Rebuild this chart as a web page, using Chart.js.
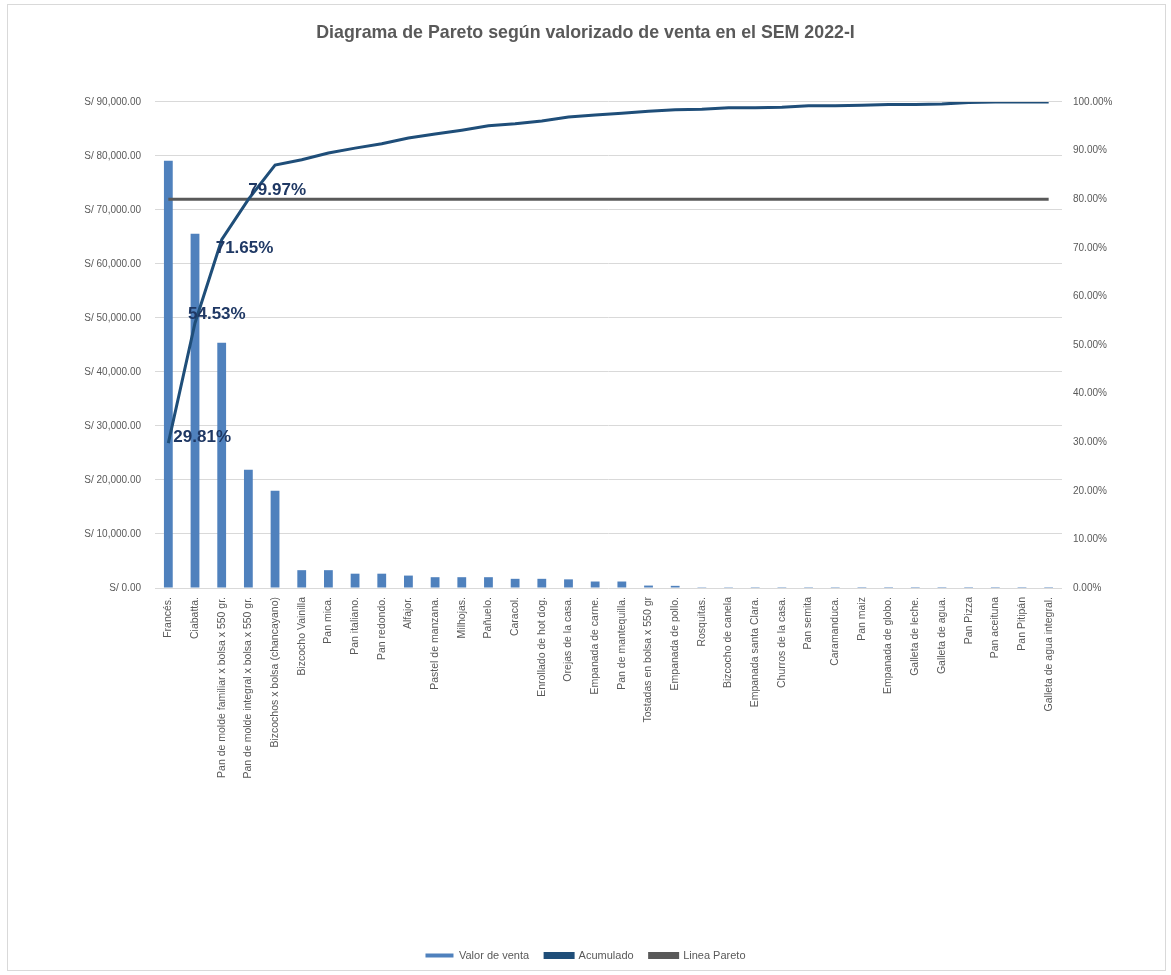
<!DOCTYPE html>
<html>
<head>
<meta charset="utf-8">
<script src="https://cdn.jsdelivr.net/npm/chart.js@4/dist/chart.umd.min.js"></script>
<style>
  html, body { margin: 0; padding: 0; background: #fff; }
  #wrap { position: relative; width: 1171px; height: 975px; }
  #frame { position: absolute; left: 7px; top: 4px; width: 1157px; height: 965px; border: 1px solid #d9d9d9; pointer-events: none; }
  canvas { position: absolute; left: 0; top: 0; }
</style>
</head>
<body>
<div id="wrap">
  <canvas id="pareto" width="1171" height="975"></canvas>
  <div id="frame"></div>
</div>
<script>
const categories = [
  'Francés.', 'Ciabatta.', 'Pan de molde familiar x bolsa x 550 gr.', 'Pan de molde integral x bolsa x 550 gr.',
  'Bizcochos x bolsa (chancayano)', 'Bizcocho Vainilla', 'Pan mica.', 'Pan italiano.', 'Pan redondo.',
  'Alfajor.', 'Pastel de manzana.', 'Milhojas.', 'Pañuelo.', 'Caracol.', 'Enrollado de hot dog.',
  'Orejas de la casa.', 'Empanada de carne.', 'Pan de mantequilla.', 'Tostadas en bolsa x 550 gr',
  'Empanada de pollo.', 'Rosquitas.', 'Bizcocho de canela', 'Empanada santa Clara.', 'Churros de la casa.',
  'Pan semita', 'Caramanduca.', 'Pan maiz', 'Empanada de globo.', 'Galleta de leche.', 'Galleta de agua.',
  'Pan Pizza', 'Pan aceituna', 'Pan Pitipán', 'Galleta de agua integral.'
];

// valor de venta (S/)
const salesValues = [
  79100, 65600, 45400, 21900, 18000, 3300, 3300, 2650, 2650, 2300, 2000, 2000, 2000, 1700, 1700,
  1600, 1200, 1200, 450, 400, 30, 30, 20, 20, 20, 20, 10, 10, 10, 10, 10, 10, 10, 10
];

// acumulado (%)
const cumulativePct = [
  29.81, 54.53, 71.65, 79.97, 87.0, 88.1, 89.5, 90.5, 91.4, 92.6, 93.4, 94.2, 95.1, 95.5, 96.1,
  96.9, 97.3, 97.7, 98.1, 98.4, 98.5, 98.8, 98.8, 98.9, 99.2, 99.2, 99.3, 99.5, 99.5, 99.6,
  99.9, 100, 100, 100
];

const paretoLevel = 80;
const leftTicks = [0, 10000, 20000, 30000, 40000, 50000, 60000, 70000, 80000, 90000];
const rightTicks = [0, 10, 20, 30, 40, 50, 60, 70, 80, 90, 100];

const GREY = '#595959';
const FONT = '"Liberation Sans", Arial, sans-serif';

// data labels on the first four cumulative points (dx, dy from the point)
const labelOffsets = [[5, -6], [-7, -9], [-6, 9], [0, -9]];

const cumulativeLabels = {
  id: 'cumulativeLabels',
  afterDatasetsDraw(chart) {
    const ctx = chart.ctx;
    const meta = chart.getDatasetMeta(1);
    ctx.save();
    ctx.font = 'bold 17px ' + FONT;
    ctx.fillStyle = '#1F3864';
    ctx.textAlign = 'left';
    ctx.textBaseline = 'middle';
    labelOffsets.forEach((off, i) => {
      const pt = meta.data[i];
      ctx.fillText(cumulativePct[i].toFixed(2) + '%', pt.x + off[0], pt.y + off[1]);
    });
    ctx.restore();
  }
};

new Chart(document.getElementById('pareto'), {
  data: {
    labels: categories,
    datasets: [
      {
        type: 'bar',
        label: 'Valor de venta',
        data: salesValues,
        backgroundColor: '#4F81BD',
        borderColor: '#4F81BD',
        yAxisID: 'y',
        barPercentage: 0.33,
        categoryPercentage: 1,
        order: 3
      },
      {
        type: 'line',
        label: 'Acumulado',
        data: cumulativePct,
        borderColor: '#1F4E79',
        backgroundColor: '#1F4E79',
        borderWidth: 3,
        pointRadius: 0,
        tension: 0,
        yAxisID: 'y1',
        order: 1
      },
      {
        type: 'line',
        label: 'Linea Pareto',
        data: categories.map(() => paretoLevel),
        borderColor: GREY,
        backgroundColor: GREY,
        borderWidth: 3,
        pointRadius: 0,
        yAxisID: 'y1',
        order: 2
      }
    ]
  },
  options: {
    responsive: false,
    animation: false,
    layout: { padding: { left: 0, right: 0, top: 0, bottom: 4 } },
    plugins: {
      title: {
        display: true,
        text: 'Diagrama de Pareto según valorizado de venta en el SEM 2022-I',
        color: GREY,
        font: { family: FONT, size: 17.8, weight: 'bold' },
        padding: { top: 22, bottom: 58.6 }
      },
      legend: {
        position: 'bottom',
        labels: {
          color: GREY,
          font: { family: FONT, size: 11 },
          boxWidth: 28,
          boxHeight: 4,
          padding: 16,
          sort: (a, b) => a.datasetIndex - b.datasetIndex
        }
      },
      tooltip: { enabled: false }
    },
    scales: {
      x: {
        grid: { display: false },
        border: { display: false },
        ticks: {
          color: GREY,
          font: { family: FONT, size: 10.5 },
          autoSkip: false,
          minRotation: 90,
          maxRotation: 90,
          padding: 1
        },
        afterFit(scale) { scale.height = 346; }
      },
      y: {
        position: 'left',
        min: 0,
        max: 90000,
        afterBuildTicks(scale) { scale.ticks = leftTicks.map(v => ({ value: v })); },
        grid: { color: '#d9d9d9', drawTicks: false },
        border: { display: false },
        ticks: {
          color: GREY,
          font: { family: FONT, size: 10 },
          padding: 14,
          callback: v => 'S/ ' + v.toLocaleString('en-US', { minimumFractionDigits: 2, maximumFractionDigits: 2 })
        },
        afterFit(scale) { scale.width = 155; }
      },
      y1: {
        position: 'right',
        min: 0,
        max: 100,
        afterBuildTicks(scale) { scale.ticks = rightTicks.map(v => ({ value: v })); },
        grid: { display: false, drawTicks: false },
        border: { display: false },
        ticks: {
          color: GREY,
          font: { family: FONT, size: 10 },
          padding: 11,
          callback: v => v.toFixed(2) + '%'
        },
        afterFit(scale) { scale.width = 109; }
      }
    }
  },
  plugins: [cumulativeLabels]
});
</script>
</body>
</html>
